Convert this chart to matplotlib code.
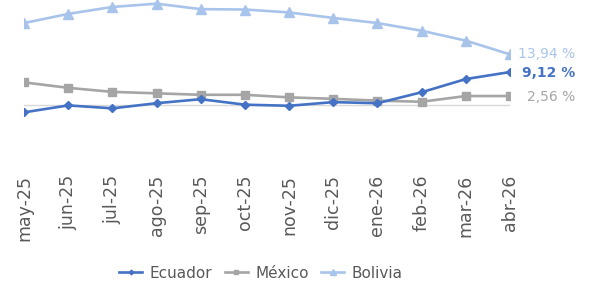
import numpy as np
import matplotlib.pyplot as plt

months = ['may-25', 'jun-25', 'jul-25', 'ago-25', 'sep-25', 'oct-25',
          'nov-25', 'dic-25', 'ene-26', 'feb-26', 'mar-26', 'abr-26']
ecuador = [-1.9, 0.0, -0.8, 0.6, 1.7, 0.2, -0.1, 0.9, 0.6, 3.6, 7.2, 9.12]
mexico = [6.3, 4.8, 3.7, 3.3, 2.9, 2.9, 2.2, 1.8, 1.3, 1.0, 2.56, 2.56]
bolivia = [22.5, 25.0, 26.9, 27.8, 26.3, 26.2, 25.4, 23.9, 22.5, 20.4, 17.7, 13.94]

c_ec = '#4472c4'
c_mx = '#a5a5a5'
c_bo = '#a9c4eb'
txt = '#595959'

fig = plt.figure(figsize=(5.89, 2.82), dpi=100)
# axes placed in pixels: left 24, right 510, top 0, bottom 140
ax = fig.add_axes([24/589, 1 - 140/282, 486/589, 140/282])
x = np.arange(len(months))

ax.axhline(0, color='#d9d9d9', lw=1, zorder=1)
ax.plot(x, ecuador, color=c_ec, lw=1.9, marker='D', ms=4, label='Ecuador', zorder=4)
ax.plot(x, mexico, color=c_mx, lw=1.9, marker='s', ms=6, label='México', zorder=3)
ax.plot(x, bolivia, color=c_bo, lw=1.9, marker='^', ms=7, label='Bolivia', zorder=2)

ax.set_xlim(0, 11)
ax.set_ylim(-9.45, 28.8)
ax.set_xticks(x)
ax.set_xticklabels(months, rotation=90, fontsize=12.5, color=txt)
ax.tick_params(axis='x', length=0, pad=25)
ax.set_yticks([])
for s in ax.spines.values():
    s.set_visible(False)

# end labels
ax.annotate('13,94 %', xy=(575/589, 1 - 54/282), xycoords='figure fraction',
            ha='right', va='center', fontsize=10, color=c_bo)
ax.annotate('9,12 %', xy=(575/589, 1 - 73/282), xycoords='figure fraction',
            ha='right', va='center', fontsize=10, color=c_ec, fontweight='bold')
ax.annotate('2,56 %', xy=(575/589, 1 - 97/282), xycoords='figure fraction',
            ha='right', va='center', fontsize=10, color=c_mx)

leg = fig.legend(loc='center', bbox_to_anchor=(261/589, 1 - 273/282), ncol=3,
                 frameon=False, fontsize=11, handlelength=1.5, columnspacing=0.8,
                 handletextpad=0.5, markerscale=0.6)
for t in leg.get_texts():
    t.set_color(txt)

fig.savefig('out.png', dpi=100)
